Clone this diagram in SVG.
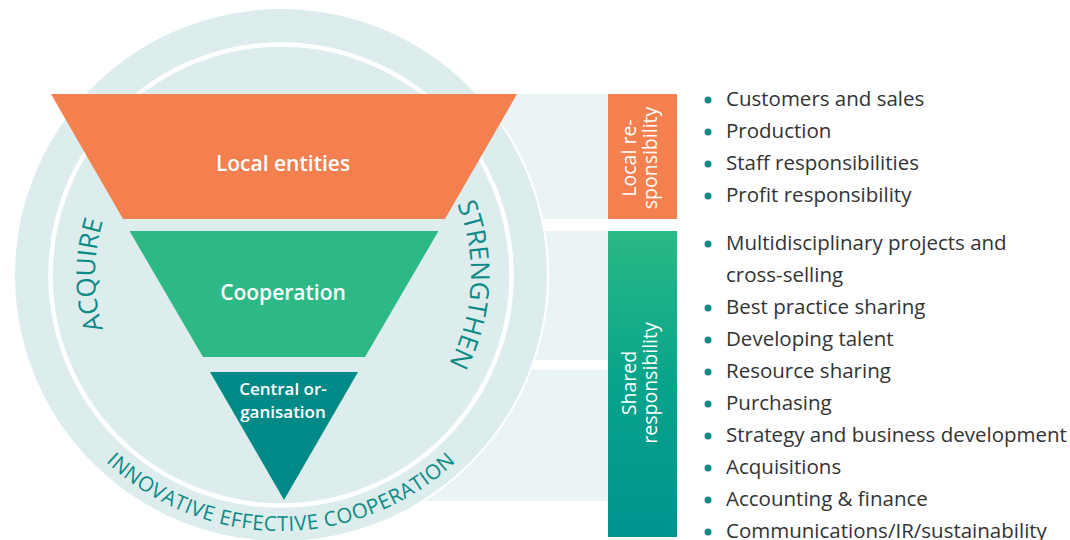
<svg xmlns="http://www.w3.org/2000/svg" width="1070" height="540" viewBox="0 0 1070 540">
  <style>
    .sans { font-family: "Open Sans", "Noto Sans", "Liberation Sans", sans-serif; }
    .funnel-label { fill: #ffffff; font-weight: 600; text-anchor: middle; }
    .arc-label { fill: #0b8a86; font-size: 26px; font-weight: 500; }
    .box-label { fill: #ffffff; font-size: 19.5px; text-anchor: middle; }
    .item { fill: #333333; font-size: 20.5px; }
    .bullet { fill: #138a84; }
    .band { fill: #eaf4f4; }
  </style>
  <defs>
    <linearGradient id="sharedGrad" x1="0" y1="0" x2="0" y2="1">
      <stop offset="0" stop-color="#2bb985"/>
      <stop offset="0.5" stop-color="#07a48b"/>
      <stop offset="1" stop-color="#00938f"/>
    </linearGradient>
    <path id="arcAcquire" d="M149.5,406.5 A186,186 0 0,1 149.5,143.5"/>
    <path id="arcStrengthen" d="M376,110.5 A190,190 0 0,1 376,439.5"/>
    <path id="arcBottom" d="M59.3,403 A256,256 0 0,0 502.7,403"/>
  </defs>

  <!-- background bands -->
  <g id="bands">
    <rect class="band" x="281" y="94" width="327" height="125"/>
    <rect class="band" x="281" y="231" width="327" height="129"/>
    <rect class="band" x="281" y="370" width="327" height="131"/>
  </g>

  <!-- circle -->
  <g id="circle">
    <circle cx="281" cy="275" r="267" fill="#ddeded" stroke="#ffffff" stroke-width="2"/>
    <circle cx="281" cy="275" r="230.5" fill="none" stroke="#ffffff" stroke-width="4.5"/>
  </g>

  <!-- arc labels -->
  <g id="arc-labels" class="sans">
    <text class="arc-label"><textPath href="#arcAcquire" startOffset="50%" text-anchor="middle">ACQUIRE</textPath></text>
    <text class="arc-label"><textPath href="#arcStrengthen" startOffset="52.5%" text-anchor="middle">STRENGTHEN</textPath></text>
    <text class="arc-label" style="font-size:20.5px; letter-spacing:0.5px"><textPath href="#arcBottom" startOffset="50%" text-anchor="middle">INNOVATIVE EFFECTIVE COOPERATION</textPath></text>
  </g>

  <!-- funnel -->
  <g id="local-entities">
    <polygon points="51,94 517,94 445,219 123,219" fill="#f4804f"/>
    <text class="sans funnel-label" x="283" y="171" font-size="21">Local entities</text>
  </g>
  <g id="cooperation">
    <polygon points="129.5,231 438.5,231 365,357 203,357" fill="#2cb985"/>
    <text class="sans funnel-label" x="283" y="300" font-size="21">Cooperation</text>
  </g>
  <g id="central-organisation">
    <polygon points="210,372 358,372 284,500" fill="#008a87"/>
    <text class="sans funnel-label" x="283" y="395" font-size="17">Central or-</text>
    <text class="sans funnel-label" x="283" y="418" font-size="17">ganisation</text>
  </g>

  <!-- responsibility boxes -->
  <g id="local-responsibility">
    <rect x="608" y="94" width="69" height="125" fill="#f4804f"/>
    <g transform="rotate(-90)" class="sans">
      <text class="box-label" x="-158" y="636">Local re-</text>
      <text class="box-label" x="-158" y="657">sponsibility</text>
    </g>
  </g>
  <g id="shared-responsibility">
    <rect x="608" y="231" width="69" height="306" fill="url(#sharedGrad)"/>
    <g transform="rotate(-90)" class="sans">
      <text class="box-label" x="-383" y="636">Shared</text>
      <text class="box-label" x="-383" y="657">responsibility</text>
    </g>
  </g>

  <!-- lists -->
  <g id="local-list" class="sans">
    <circle class="bullet" cx="708" cy="100" r="3.5"/>
    <text class="item" x="726" y="106">Customers and sales</text>
    <circle class="bullet" cx="708" cy="132" r="3.5"/>
    <text class="item" x="726" y="138">Production</text>
    <circle class="bullet" cx="708" cy="164" r="3.5"/>
    <text class="item" x="726" y="170">Staff responsibilities</text>
    <circle class="bullet" cx="708" cy="196" r="3.5"/>
    <text class="item" x="726" y="202">Profit responsibility</text>
  </g>
  <g id="shared-list" class="sans">
    <circle class="bullet" cx="708" cy="244" r="3.5"/>
    <text class="item" x="726" y="250">Multidisciplinary projects and</text>
    <text class="item" x="726" y="282">cross-selling</text>
    <circle class="bullet" cx="708" cy="308" r="3.5"/>
    <text class="item" x="726" y="314">Best practice sharing</text>
    <circle class="bullet" cx="708" cy="340" r="3.5"/>
    <text class="item" x="726" y="346">Developing talent</text>
    <circle class="bullet" cx="708" cy="372" r="3.5"/>
    <text class="item" x="726" y="378">Resource sharing</text>
    <circle class="bullet" cx="708" cy="404" r="3.5"/>
    <text class="item" x="726" y="410">Purchasing</text>
    <circle class="bullet" cx="708" cy="436" r="3.5"/>
    <text class="item" x="726" y="442">Strategy and business development</text>
    <circle class="bullet" cx="708" cy="468" r="3.5"/>
    <text class="item" x="726" y="474">Acquisitions</text>
    <circle class="bullet" cx="708" cy="500" r="3.5"/>
    <text class="item" x="726" y="506">Accounting &amp; finance</text>
    <circle class="bullet" cx="708" cy="532" r="3.5"/>
    <text class="item" x="726" y="538">Communications/IR/sustainability</text>
  </g>

  <g id="connectors"></g>
</svg>
